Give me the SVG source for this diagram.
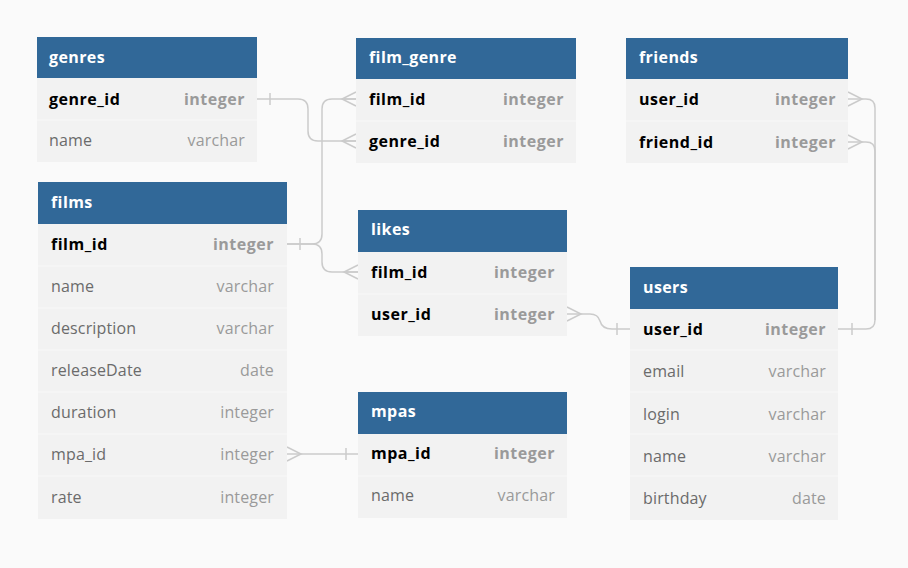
<svg xmlns="http://www.w3.org/2000/svg" width="908" height="568" viewBox="0 0 908 568">
<style>
.bg{fill:#fafafa}
.body{fill:#f2f2f2}
.hdr{fill:#316898}
.sep{stroke:#f8f8f8;stroke-width:1}
.ht{font-family:"Open Sans",sans-serif;font-size:16px;font-weight:bold;fill:#ffffff;letter-spacing:0.4px}
.kn{font-family:"Open Sans",sans-serif;font-size:16px;font-weight:bold;fill:#000000;letter-spacing:0.5px}
.kt{font-family:"Open Sans",sans-serif;font-size:16px;font-weight:bold;fill:#9a9a9a;text-anchor:end;letter-spacing:0.5px}
.fn{font-family:"Open Sans",sans-serif;font-size:16px;fill:#6b6b6b;letter-spacing:0.15px}
.ft{font-family:"Open Sans",sans-serif;font-size:16px;fill:#9a9a9a;text-anchor:end;letter-spacing:0.15px}
.c{fill:none;stroke:#cbcbcb;stroke-width:1.5}
</style>
<rect class="bg" x="0" y="0" width="908" height="568"/>
<g id="connectors">
<path class="c" d="M257,99 H298 Q308,99 308,109 V131 Q308,141 318,141 H356"/>
<path class="c" d="M270,93 V105"/>
<path class="c" d="M356,134 L342,141 L356,148 M342,141 H356"/>
<path class="c" d="M287,244 H312 Q322,244 322,234 V109 Q322,99 332,99 H356"/>
<path class="c" d="M356,92 L342,99 L356,106 M342,99 H356"/>
<path class="c" d="M287,244 H312 Q322,244 322,254 V262 Q322,272 332,272 H358"/>
<path class="c" d="M300,238 V250"/>
<path class="c" d="M358,265 L344,272 L358,279 M344,272 H358"/>
<path class="c" d="M567,314 H590 Q598,314 600,321 Q602,329 612,329 H630"/>
<path class="c" d="M567,307 L581,314 L567,321"/>
<path class="c" d="M617,323 V335"/>
<path class="c" d="M848,99 H866 Q875,99 875,108 V320 Q875,329 866,329 H838"/>
<path class="c" d="M848,142 H866 Q875,142 875,151 V320"/>
<path class="c" d="M848,92 L862,99 L848,106"/>
<path class="c" d="M848,135 L862,142 L848,149"/>
<path class="c" d="M852,323 V335"/>
<path class="c" d="M287,454 H358"/>
<path class="c" d="M287,447 L301,454 L287,461"/>
<path class="c" d="M346,448 V460"/>
</g>
<g id="genres">
<rect class="body" x="37" y="37" width="220" height="125"/>
<rect class="hdr" x="37" y="37" width="220" height="41"/>
<line class="sep" x1="37" y1="120" x2="257" y2="120"/>
<text class="ht" x="49" y="63">genres</text>
<text class="kn" x="49" y="105">genre_id</text><text class="kt" x="245" y="105">integer</text>
<text class="fn" x="49" y="146">name</text><text class="ft" x="245" y="146">varchar</text>
</g>
<g id="film_genre">
<rect class="body" x="356" y="38" width="220" height="125"/>
<rect class="hdr" x="356" y="38" width="220" height="41"/>
<line class="sep" x1="356" y1="121" x2="576" y2="121"/>
<text class="ht" x="369" y="63">film_genre</text>
<text class="kn" x="369" y="105">film_id</text><text class="kt" x="564" y="105">integer</text>
<text class="kn" x="369" y="147">genre_id</text><text class="kt" x="564" y="147">integer</text>
</g>
<g id="friends">
<rect class="body" x="626" y="38" width="222" height="125"/>
<rect class="hdr" x="626" y="38" width="222" height="41"/>
<line class="sep" x1="626" y1="121" x2="848" y2="121"/>
<text class="ht" x="639" y="63">friends</text>
<text class="kn" x="639" y="105">user_id</text><text class="kt" x="836" y="105">integer</text>
<text class="kn" x="639" y="148">friend_id</text><text class="kt" x="836" y="148">integer</text>
</g>
<g id="films">
<rect class="body" x="38" y="182" width="249" height="337"/>
<rect class="hdr" x="38" y="182" width="249" height="42"/>
<line class="sep" x1="38" y1="266" x2="287" y2="266"/>
<line class="sep" x1="38" y1="308" x2="287" y2="308"/>
<line class="sep" x1="38" y1="350" x2="287" y2="350"/>
<line class="sep" x1="38" y1="392" x2="287" y2="392"/>
<line class="sep" x1="38" y1="434" x2="287" y2="434"/>
<line class="sep" x1="38" y1="476" x2="287" y2="476"/>
<text class="ht" x="51" y="208">films</text>
<text class="kn" x="51" y="250">film_id</text><text class="kt" x="274" y="250">integer</text>
<text class="fn" x="51" y="292">name</text><text class="ft" x="274" y="292">varchar</text>
<text class="fn" x="51" y="334">description</text><text class="ft" x="274" y="334">varchar</text>
<text class="fn" x="51" y="376">releaseDate</text><text class="ft" x="274" y="376">date</text>
<text class="fn" x="51" y="418">duration</text><text class="ft" x="274" y="418">integer</text>
<text class="fn" x="51" y="460">mpa_id</text><text class="ft" x="274" y="460">integer</text>
<text class="fn" x="51" y="503">rate</text><text class="ft" x="274" y="503">integer</text>
</g>
<g id="likes">
<rect class="body" x="358" y="210" width="209" height="126"/>
<rect class="hdr" x="358" y="210" width="209" height="42"/>
<line class="sep" x1="358" y1="294" x2="567" y2="294"/>
<text class="ht" x="371" y="235">likes</text>
<text class="kn" x="371" y="278">film_id</text><text class="kt" x="555" y="278">integer</text>
<text class="kn" x="371" y="320">user_id</text><text class="kt" x="555" y="320">integer</text>
</g>
<g id="users">
<rect class="body" x="630" y="267" width="208" height="253"/>
<rect class="hdr" x="630" y="267" width="208" height="42"/>
<line class="sep" x1="630" y1="350" x2="838" y2="350"/>
<line class="sep" x1="630" y1="392" x2="838" y2="392"/>
<line class="sep" x1="630" y1="434" x2="838" y2="434"/>
<line class="sep" x1="630" y1="476" x2="838" y2="476"/>
<text class="ht" x="643" y="293">users</text>
<text class="kn" x="643" y="335">user_id</text><text class="kt" x="826" y="335">integer</text>
<text class="fn" x="643" y="377">email</text><text class="ft" x="826" y="377">varchar</text>
<text class="fn" x="643" y="420">login</text><text class="ft" x="826" y="420">varchar</text>
<text class="fn" x="643" y="462">name</text><text class="ft" x="826" y="462">varchar</text>
<text class="fn" x="643" y="504">birthday</text><text class="ft" x="826" y="504">date</text>
</g>
<g id="mpas">
<rect class="body" x="358" y="392" width="209" height="126"/>
<rect class="hdr" x="358" y="392" width="209" height="42"/>
<line class="sep" x1="358" y1="476" x2="567" y2="476"/>
<text class="ht" x="371" y="417">mpas</text>
<text class="kn" x="371" y="459">mpa_id</text><text class="kt" x="555" y="459">integer</text>
<text class="fn" x="371" y="501">name</text><text class="ft" x="555" y="501">varchar</text>
</g>
</svg>
